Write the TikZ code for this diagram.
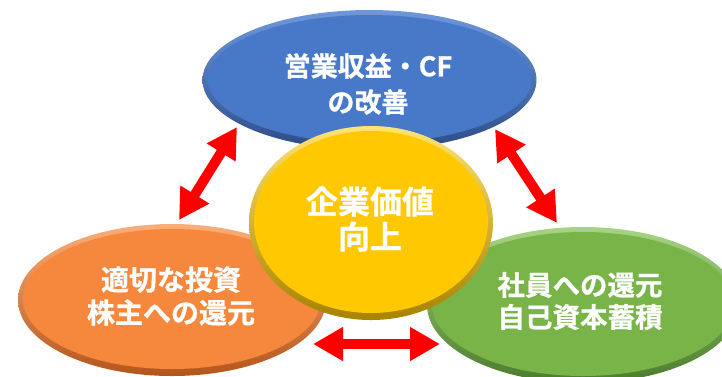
\documentclass[tikz,border=0pt]{standalone}
\usepackage{fontspec}
\newfontfamily\jp{Noto Sans CJK JP Bold}[FakeBold=0.8]
\usetikzlibrary{arrows.meta,shapes.geometric}
\definecolor{bluemain}{HTML}{4878C8}
\definecolor{bluetop}{HTML}{6E98DC}
\definecolor{bluebot}{HTML}{2C4C88}
\definecolor{orgmain}{HTML}{F5883C}
\definecolor{orgtop}{HTML}{FBAE78}
\definecolor{orgbot}{HTML}{B4561C}
\definecolor{grnmain}{HTML}{78B448}
\definecolor{grntop}{HTML}{A6D484}
\definecolor{grnbot}{HTML}{4A7C2C}
\definecolor{ylwmain}{HTML}{FFC800}
\definecolor{ylwtop}{HTML}{FFE470}
\definecolor{ylwbot}{HTML}{A88200}
\definecolor{arrred}{HTML}{FF0000}
\tikzset{
  blob/.style n args={5}{ellipse, minimum width=#1, minimum height=#2, inner sep=0pt,
    top color=#4, bottom color=#5,
    path picture={\fill[#3] ([yshift=1pt]path picture bounding box.center)
      ellipse [x radius=#1/2-5pt, y radius=#2/2-6pt];}},
  blobtext/.style={text=white, align=center, inner sep=0pt},
  dblarrow/.style={draw=arrred, line width=10pt,
    {Triangle[width=32pt,length=30pt]}-{Triangle[width=32pt,length=30pt]}}
}
\begin{document}
\begin{tikzpicture}[x=1pt,y=-1pt]
\useasboundingbox (0,0) rectangle (722,376);
\clip (0,0) rectangle (722,376);
\node[blob={334pt}{140pt}{bluemain}{bluetop}{bluebot}] (blue) at (369.5,80) {};
\node[blobtext, font=\jp\fontsize{27}{36}\selectfont] (blueT) at (368,84) {営業収益・CF\\の改善};
\node[blob={308pt}{152pt}{orgmain}{orgtop}{orgbot}] (orange) at (172,300) {};
\node[blobtext, font=\jp\fontsize{28}{33}\selectfont] (orangeT) at (171,296) {適切な投資\\株主への還元};
\node[blob={312pt}{156pt}{grnmain}{grntop}{grnbot}] (green) at (583,305) {};
\node[blobtext, font=\jp\fontsize{27.5}{32}\selectfont] (greenT) at (580,301) {社員への還元\\自己資本蓄積};
\node[blob={244pt}{194pt}{ylwmain}{ylwtop}{ylwbot}] (yellow) at (371,223) {};
\node[blobtext, font=\jp\fontsize{32}{35}\selectfont] (yellowT) at (370,219) {企業価値\\向上};
\coordinate (lA) at (237,127);
\coordinate (lB) at (179,220);
\coordinate (rA) at (495,129);
\coordinate (rB) at (557,223);
\coordinate (bA) at (313,344);
\coordinate (bB) at (440,344);
\draw[dblarrow] (lA) -- (lB);
\draw[dblarrow] (rA) -- (rB);
\draw[dblarrow] (bA) -- (bB);
\end{tikzpicture}
\end{document}
